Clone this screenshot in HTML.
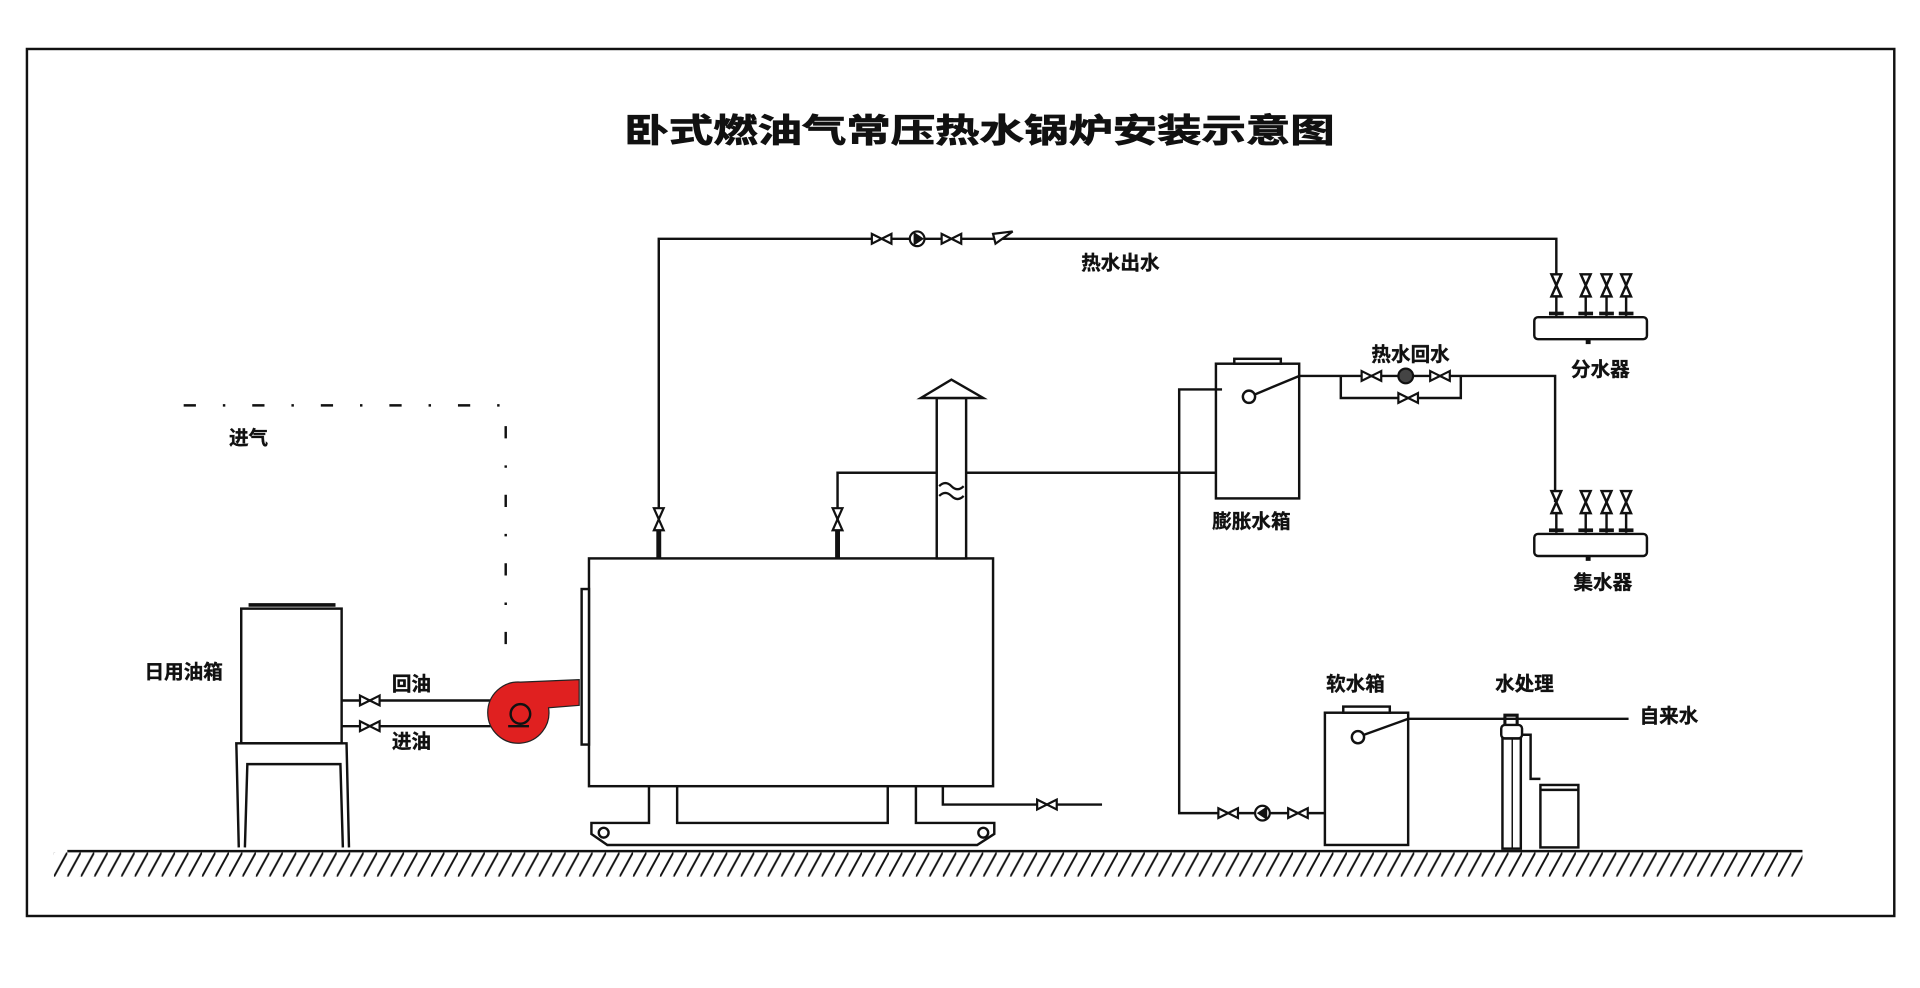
<!DOCTYPE html>
<html><head><meta charset="utf-8"><style>
html,body{margin:0;padding:0;background:#fff;width:1920px;height:988px;overflow:hidden}
svg{display:block}
text{font-family:"Liberation Sans","Noto Sans CJK SC","WenQuanYi Zen Hei",sans-serif;font-weight:bold;fill:#111}
</style></head><body>
<svg width="1920" height="988" viewBox="0 0 1568 806.8" preserveAspectRatio="none" xmlns="http://www.w3.org/2000/svg">
<defs>
<pattern id="hatch" width="11" height="20" patternUnits="userSpaceOnUse" x="55" y="696">
<line x1="0" y1="20" x2="11" y2="0" stroke="#111" stroke-width="1.6"/>
</pattern>
<g id="hv"><polygon points="-8,-4 0,0 -8,4"/><polygon points="8,-4 0,0 8,4"/></g>
</defs>
<rect x="22" y="40" width="1525" height="708" fill="none" stroke="#111" stroke-width="2"/>
<text x="800" y="116" font-size="27" text-anchor="middle" textLength="580" lengthAdjust="spacingAndGlyphs" stroke="#111" stroke-width="0.6">卧式燃油气常压热水锅炉安装示意图</text>

<!-- ground -->
<line x1="55" y1="695" x2="1472" y2="695" stroke="#111" stroke-width="2"/>
<rect x="44" y="696" width="1428" height="20" fill="url(#hatch)"/>

<g fill="none" stroke="#111" stroke-width="2">
<polyline points="538,455 538,195 1271,195 1271,225"/>
<polyline points="684,456 684,386 993,386"/>
<rect x="481" y="456" width="330" height="186" fill="#fff"/>
<rect x="475" y="481" width="6" height="127" fill="#fff"/>
<rect x="765" y="325" width="24" height="131" fill="#fff"/>
<polygon points="752,325 777,310 803,325" fill="#fff"/>
<path d="M767,397 q5,-5 10,0 t10,0 M767,405 q5,-5 10,0 t10,0" stroke-width="1.8"/>
<line x1="684" y1="386" x2="765" y2="386"/><line x1="789" y1="386" x2="993" y2="386"/>
<polyline points="530,642 530,672 483,672 483,681 496,690 798,690 812,681 812,672 748,672 748,642"/>
<polyline points="553,642 553,672 725,672 725,642"/>
<circle cx="493" cy="680" r="4"/><circle cx="803" cy="680" r="4"/>
<polyline points="770,642 770,657 900,657"/>
<rect x="993" y="297" width="68" height="110"/>
<rect x="1008" y="293" width="38" height="4"/>
<circle cx="1020" cy="324" r="5"/>
<line x1="1025" y1="322" x2="1061" y2="307"/>
<polyline points="1061,307 1270,307 1270,410"/>
<polyline points="1095,307 1095,325 1193,325 1193,307"/>
<polyline points="998,318 963,318 963,664 1082,664"/>
<rect x="1082" y="582" width="68" height="108"/>
<rect x="1097" y="577" width="38" height="5"/>
<circle cx="1109" cy="602" r="5"/>
<line x1="1114" y1="600" x2="1150" y2="587"/>
<line x1="1150" y1="587" x2="1330" y2="587"/>
<rect x="1227" y="603" width="15" height="90"/>
<rect x="1227" y="603" width="8" height="90" stroke-width="1.2"/>
<rect x="1226" y="592" width="17" height="11" rx="3"/>
<path d="M1229,592 v-8 h10 v8" stroke-width="2.5"/>
<polyline points="1243,600 1250,600 1250,636 1258,636"/>
<rect x="1258" y="641" width="31" height="51"/>
<line x1="1258" y1="645" x2="1289" y2="645"/>
<rect x="1253" y="259" width="92" height="18" rx="3"/>
<rect x="1253" y="436" width="92" height="18" rx="3"/>
<rect x="197" y="497" width="82" height="110"/>
<line x1="203" y1="494" x2="274" y2="494" stroke-width="3"/>
<polyline points="195,692 193,607 283,607 285,692"/>
<polyline points="200,692 202,624 278,624 280,692"/>
<line x1="279" y1="572" x2="415" y2="572"/>
<line x1="279" y1="593" x2="425" y2="593"/>
</g>
<g stroke="#111" stroke-width="2" fill="#fff">
<g id="mv">
<line x1="1271" y1="225" x2="1271" y2="258"/>
<polygon points="1267,224 1275,224 1271,233" /><polygon points="1267,242 1275,242 1271,233"/>
<line x1="1265" y1="256" x2="1277" y2="256" stroke-width="3"/>
</g>
<use href="#mv" x="24"/><use href="#mv" x="41"/><use href="#mv" x="57"/>
<use href="#mv" y="177"/><use href="#mv" x="24" y="177"/><use href="#mv" x="41" y="177"/><use href="#mv" x="57" y="177"/>
<line x1="1297" y1="277" x2="1297" y2="281" stroke-width="4"/>
<line x1="1297" y1="454" x2="1297" y2="458" stroke-width="4"/>
</g>
<g stroke="#111" stroke-width="1.8" fill="#fff">
<use href="#hv" x="720" y="195"/><use href="#hv" x="777" y="195"/>
<use href="#hv" x="1120" y="307"/><use href="#hv" x="1176" y="307"/><use href="#hv" x="1150" y="325"/>
<use href="#hv" x="1003" y="664"/><use href="#hv" x="1060" y="664"/>
<use href="#hv" x="302" y="572"/><use href="#hv" x="302" y="593"/>
<use href="#hv" x="855" y="657"/>
<polygon points="534,415 542,415 538,424"/><polygon points="534,433 542,433 538,424"/>
<polygon points="680,415 688,415 684,424"/><polygon points="680,433 688,433 684,424"/>
<circle cx="749" cy="195" r="6"/><polygon points="747,191 753,195 747,199" fill="#111"/>
<circle cx="1148" cy="307" r="6" fill="#444"/>
<circle cx="1031" cy="664" r="6"/><polygon points="1034,660 1028,664 1034,668" fill="#111"/>
<polygon points="811,191 827,189 813,199"/>
</g>
<line x1="538" y1="433" x2="538" y2="456" stroke="#111" stroke-width="4"/>
<line x1="684" y1="433" x2="684" y2="456" stroke="#111" stroke-width="4"/>
<path d="M425,557 L473,555 L473,576 L448,578 A25,25 0 1 1 425,557 Z" fill="#e02020" stroke="#222" stroke-width="1"/>
<circle cx="425" cy="583" r="8" fill="none" stroke="#111" stroke-width="2"/>
<line x1="415" y1="593" x2="432" y2="593" stroke="#111" stroke-width="2"/>
<polyline points="150,331 413,331 413,540" fill="none" stroke="#111" stroke-width="2" stroke-dasharray="10 22 2 22"/>
<g font-size="16" stroke="#111" stroke-width="0.3">
<text x="883" y="220">热水出水</text>
<text x="1120" y="295">热水回水</text>
<text x="1283" y="307">分水器</text>
<text x="1285" y="481">集水器</text>
<text x="990" y="431">膨胀水箱</text>
<text x="1083" y="564">软水箱</text>
<text x="1221" y="564">水处理</text>
<text x="1339" y="590">自来水</text>
<text x="118" y="554">日用油箱</text>
<text x="320" y="564">回油</text>
<text x="320" y="611">进油</text>
<text x="187" y="363">进气</text>
</g>
</svg>
</body></html>
